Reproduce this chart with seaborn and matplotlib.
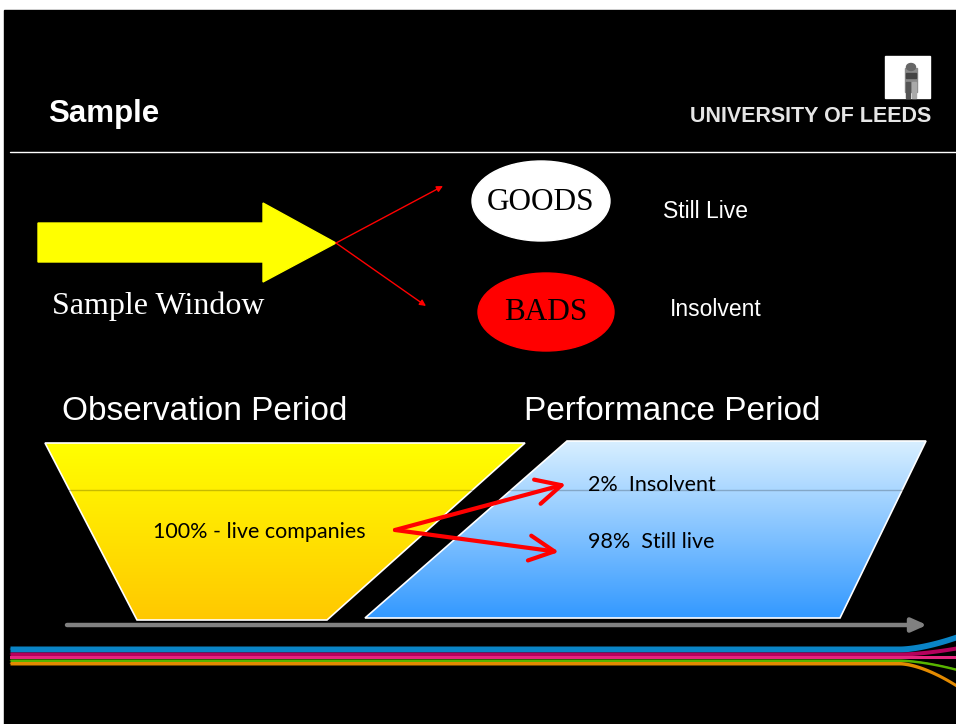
import numpy as np
import matplotlib
matplotlib.use("Agg")
import matplotlib.pyplot as plt
import seaborn as sns
import pandas as pd
from matplotlib.patches import Polygon, Ellipse, Rectangle

# ---- content ----
slide_title = "Sample"
logo_text = "UNIVERSITY OF LEEDS"
window_label = "Sample Window"
outcome_labels = ["GOODS", "BADS"]
outcome_desc = ["Still Live", "Insolvent"]
period_labels = ["Observation Period", "Performance Period"]
start_share = 100
start_desc = "live companies"
perf_shares = [2, 98]
perf_desc = ["Insolvent", "Still live"]
stripe_colors = ["#0A84C6", "#B5005C", "#E3267F", "#58B400", "#E38A00"]
stripe_fan = [-12, -6, 0, 9, 22]

sns.set_theme(style="white")
plt.rcParams["font.family"] = ["Liberation Sans", "DejaVu Sans"]

fig = plt.figure(figsize=(9.56, 7.24), dpi=100)
fig.patch.set_facecolor("white")
ax = fig.add_axes([0, 0, 1, 1])
ax.set_xlim(0, 956)
ax.set_ylim(724, 0)
ax.axis("off")

# slide background
ax.add_patch(Rectangle((4, 10), 952, 714, color="black", zorder=0))

# title + rule
ax.text(48, 114, slide_title, color="white", fontsize=22.5, fontweight="bold",
        va="center", ha="left")
ax.plot([10, 956], [151.5, 151.5], color="white", lw=1.0)

# logo
ax.add_patch(Rectangle((885, 56), 45, 42, color="white", zorder=2))
ax.add_patch(Rectangle((905, 68), 12, 24, color="#8a8a8a", zorder=3))
ax.add_patch(Ellipse((911, 67), 9, 7, color="#666666", zorder=3))
ax.add_patch(Rectangle((906, 73), 10, 5, color="#444444", zorder=3))
ax.add_patch(Rectangle((906, 82), 4, 16, color="#555555", zorder=3))
ax.add_patch(Rectangle((912, 82), 4, 16, color="#aaaaaa", zorder=3))
ax.text(931, 116, logo_text, color="#e6e6e6", fontsize=15.5, fontweight="bold",
        va="center", ha="right")

# big yellow arrow
ax.add_patch(Polygon([(38, 223), (263, 223), (263, 203), (336, 243), (263, 282),
                      (263, 262), (38, 262)], closed=True, color="#FFFF00", zorder=2))
for tip in [(443, 186), (426, 306)]:
    ax.annotate("", xy=tip, xytext=(336, 243),
                arrowprops=dict(arrowstyle="-|>", color="red", lw=1.0,
                                mutation_scale=9, shrinkA=0, shrinkB=0))
ax.text(52, 306, window_label, color="white", fontsize=23,
        family=["Liberation Serif"], va="center", ha="left")

# outcome ellipses
ell_specs = [((541, 201), 138, 80, "white"), ((546, 312), 136, 78, "#FF0000")]
desc_pos = [(663, 211), (670, 309)]
for (c, w, h, fc), lab, desc, dp in zip(ell_specs, outcome_labels, outcome_desc, desc_pos):
    ax.add_patch(Ellipse(c, w, h, color=fc, zorder=2))
    ax.text(c[0], c[1] + 1, lab, color="black", fontsize=22.5,
            family=["Liberation Serif"], va="center", ha="center", zorder=3)
    ax.text(dp[0], dp[1], desc, color="white", fontsize=16.5, va="center", ha="left")

# period headings
for x, lab in zip([62, 524], period_labels):
    ax.text(x, 412, lab, color="white", fontsize=24, va="center", ha="left")


def gradient_shape(pts, top, bottom):
    poly = Polygon(pts, closed=True, facecolor="none", edgecolor="white", lw=1.2, zorder=4)
    ax.add_patch(poly)
    xs = [p[0] for p in pts]
    ys = [p[1] for p in pts]
    n = 256
    t = np.linspace(0, 1, n)[:, None]
    top = np.array(matplotlib.colors.to_rgb(top))
    bottom = np.array(matplotlib.colors.to_rgb(bottom))
    img = (top[None, :] * (1 - t) + bottom[None, :] * t)[:, None, :]
    im = ax.imshow(img, extent=(min(xs), max(xs), max(ys), min(ys)), aspect="auto",
                   zorder=3, interpolation="bilinear")
    clip = Polygon(pts, closed=True, transform=ax.transData)
    im.set_clip_path(clip)


gradient_shape([(45, 443), (525, 443), (327, 620), (137, 620)], "#FFFF00", "#FFC800")
gradient_shape([(567, 441), (926, 441), (840, 618), (365, 618)], "#D8EFFF", "#3399FF")
# faint rule across the shapes
ax.plot([45, 925], [490, 490], color="black", alpha=0.22, lw=1.0, zorder=5)

# texts in shapes (Calibri-like)
cal = ["Lato", "DejaVu Sans"]
ax.text(153, 532, f"{start_share}% - {start_desc}", color="black", fontsize=15.5,
        family=cal, va="center", ha="left", zorder=6)
for y, s, d in zip([485, 542], perf_shares, perf_desc):
    ax.text(588, y, f"{s}%  {d}", color="black", fontsize=15.5, family=cal,
            va="center", ha="left", zorder=6)

# red split arrows
for tip in [(566, 484), (559, 552)]:
    ax.annotate("", xy=tip, xytext=(395, 530),
                arrowprops=dict(arrowstyle="->,head_length=0.9,head_width=0.45",
                                color="#FF0000", lw=3.0, shrinkA=0, shrinkB=0,
                                mutation_scale=20), zorder=7)

# time axis arrow
ax.annotate("", xy=(927, 625), xytext=(67, 625),
            arrowprops=dict(arrowstyle="-|>,head_length=0.9,head_width=0.4",
                            color="#808080", lw=3.2, shrinkA=0, shrinkB=0,
                            mutation_scale=10))

# stripes as bands (top edge, bottom edge)
stripe_top = [646, 652, 656, 659, 661.5]
stripe_bot = [652, 656, 659, 661.5, 665]
xs = np.concatenate([[10, 900], np.linspace(900, 956, 40)[1:]])
u = (xs - 900).clip(0) / 56
for col, t, b, fan in zip(stripe_colors, stripe_top, stripe_bot, stripe_fan):
    off = fan * u ** 1.6
    ax.fill_between(xs, t + off, b + off, color=col, lw=0, zorder=2)
    df = pd.DataFrame({"x": xs, "y": (t + b) / 2 + off})
    sns.lineplot(data=df, x="x", y="y", ax=ax, color=col, linewidth=0.5,
                 sort=False, estimator=None, zorder=2)

ax.set_xlim(0, 956)
ax.set_ylim(724, 0)
ax.axis("off")
fig.savefig("out.png", dpi=100, facecolor="white")
